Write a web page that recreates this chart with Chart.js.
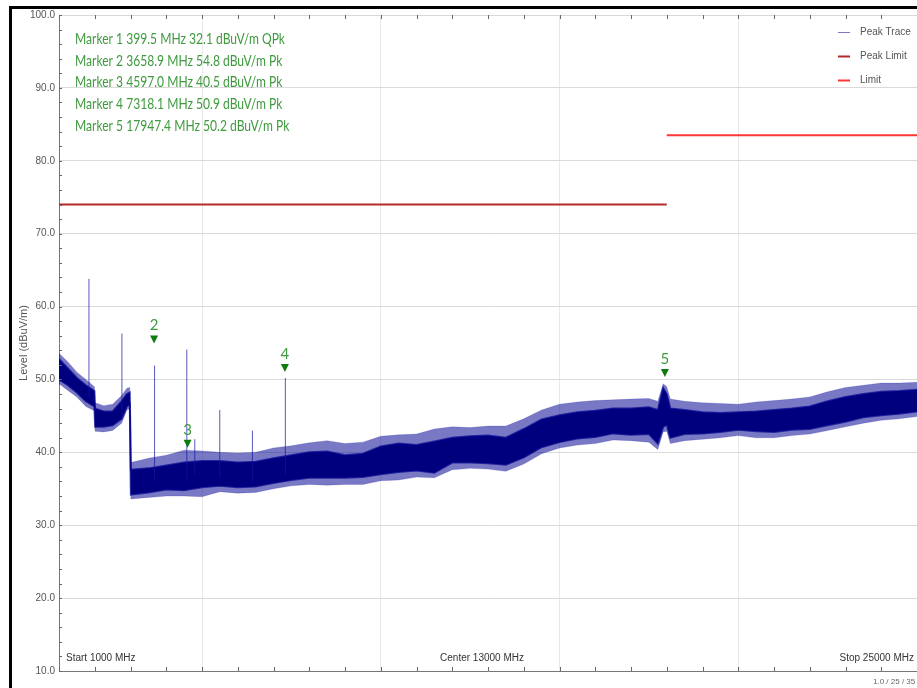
<!DOCTYPE html>
<html>
<head>
<meta charset="utf-8">
<script src="https://cdn.jsdelivr.net/npm/chart.js@4.4.1/dist/chart.umd.min.js"></script>
<style>
  body { margin: 0; background: #fff; }
  canvas { display: block; }
</style>
</head>
<body>
<canvas id="scan" width="917" height="688"></canvas>
<script>
// peak trace, MHz and dBuV/m: dense core edges and the outer reach of the noise
const bandFreq = [1000, 1250, 1500, 1750, 1990, 2010, 2250, 2500, 2750, 2900, 2980, 3010, 3500, 4000, 4500, 5000,
  5500, 6000, 6500, 7000, 7500, 8000, 8500, 9000, 9500, 10000, 10500, 11000, 11500, 12000, 12500, 13000,
  13500, 14000, 14500, 15000, 15500, 16000, 16500, 17000, 17500, 17750, 17900, 18000, 18100, 18500, 19000,
  19500, 20000, 20500, 21000, 21500, 22000, 22500, 23000, 23500, 24000, 24500, 25000];
const bandHigh = [52.8, 51.5, 50.2, 49.2, 48.4, 46.0, 45.6, 45.6, 47.0, 48.0, 48.2, 37.6, 37.8, 38.2, 38.6, 38.8,
  38.8, 38.6, 38.7, 39.2, 39.6, 40.0, 40.1, 39.6, 39.8, 40.8, 41.2, 41.0, 41.5, 42.0, 42.2, 42.3,
  42.0, 43.2, 44.5, 45.1, 45.5, 45.7, 46.0, 46.0, 46.2, 45.8, 48.8, 48.0, 46.0, 45.8, 45.5,
  45.4, 45.5, 45.6, 45.8, 46.0, 46.3, 47.0, 47.6, 48.0, 48.3, 48.4, 48.6];
const bandLow = [50.0, 49.2, 48.2, 47.0, 46.3, 43.5, 43.5, 43.7, 44.6, 46.3, 46.6, 34.2, 34.5, 34.9, 34.8, 35.2,
  35.4, 35.2, 35.3, 35.8, 36.2, 36.5, 36.5, 36.5, 36.6, 37.0, 37.3, 37.5, 37.2, 38.6, 38.6, 38.5,
  38.3, 39.3, 40.7, 41.4, 41.9, 42.1, 42.6, 42.4, 42.5, 41.2, 43.5, 43.8, 42.0, 42.5, 42.6,
  42.8, 43.1, 42.9, 42.8, 43.1, 43.2, 43.7, 44.2, 44.8, 45.1, 45.3, 45.6];
const noiseHigh = [53.6, 52.4, 51.0, 50.0, 49.0, 46.8, 46.4, 46.6, 47.8, 48.8, 48.9, 38.6, 39.2, 39.6, 40.3, 40.2,
  40.0, 39.9, 40.0, 40.6, 40.9, 41.3, 41.6, 41.2, 41.4, 42.2, 42.4, 42.5, 43.2, 43.5, 43.4, 43.6,
  43.6, 44.6, 45.8, 46.6, 46.9, 47.1, 47.2, 47.3, 47.4, 47.0, 49.4, 49.0, 47.3, 47.0, 46.8,
  46.7, 46.6, 46.9, 47.1, 47.3, 47.6, 48.3, 48.9, 49.2, 49.5, 49.5, 49.6];
const noiseLow = [49.4, 48.5, 47.6, 46.3, 45.7, 42.9, 42.8, 43.0, 44.0, 45.8, 46.0, 33.6, 33.8, 34.0, 34.0, 33.9,
  34.6, 34.4, 34.5, 35.0, 35.4, 35.6, 35.5, 35.6, 35.6, 36.1, 36.2, 36.6, 36.5, 37.6, 37.8, 37.7,
  37.4, 38.4, 39.8, 40.6, 41.0, 41.2, 41.7, 41.6, 41.4, 40.4, 42.8, 42.9, 41.2, 41.6, 41.8,
  42.0, 42.3, 42.0, 42.0, 42.3, 42.5, 43.0, 43.5, 44.0, 44.4, 44.6, 44.9];

// narrow spikes on top of the noise band
const spikeFreq = [1838, 2760, 3673, 4575, 4798, 5497, 6410, 7332];
const spikeBase = [47.5, 45.0, 36.0, 36.0, 37.0, 36.5, 36.0, 37.0];
const spikeTop = [63.8, 56.3, 51.9, 54.1, 41.8, 45.8, 43.0, 50.2];

// limits
const peakLimitFreq = [1000, 18000];
const peakLimitLevel = [74, 74];
const limitFreq = [18000, 25000];
const limitLevel = [83.5, 83.5];

// markers
const markerNo = [2, 3, 4, 5];
const markerFreq = [3658.9, 4597.0, 7318.1, 17947.4];
const markerLevel = [54.8, 40.5, 50.9, 50.2];
const markerLines = [
  'Marker 1 399.5 MHz 32.1 dBuV/m QPk',
  'Marker 2 3658.9 MHz 54.8 dBuV/m Pk',
  'Marker 3 4597.0 MHz 40.5 dBuV/m Pk',
  'Marker 4 7318.1 MHz 50.9 dBuV/m Pk',
  'Marker 5 17947.4 MHz 50.2 dBuV/m Pk'
];

const xGrid = [5000, 10000, 15000, 20000];
const yTicks = [10, 20, 30, 40, 50, 60, 70, 80, 90, 100];
const legendNames = ['Peak Trace', 'Peak Limit', 'Limit'];
const legendColors = ['#7b7bc4', '#b22a2a', '#ff3535'];

const navy = '#00007f';
const green = '#3f9a3f';

function pts(xs, ys) {
  return xs.map((x, i) => ({ x: x, y: ys[i] }));
}

const spikeData = [];
spikeFreq.forEach((f, i) => {
  spikeData.push({ x: f, y: spikeBase[i] }, { x: f, y: spikeTop[i] }, { x: f, y: null });
});

// condensed text, like the analyser software font
function narrowText(ctx, text, x, y, width) {
  const w = ctx.measureText(text).width;
  const sx = Math.min(1, width / w);
  ctx.save();
  ctx.translate(x, y);
  ctx.scale(sx, 1);
  ctx.fillText(text, 0, 0);
  ctx.restore();
}

const decorations = {
  id: 'decorations',
  afterDatasetsDraw(chart) {
    const ctx = chart.ctx;
    const xs = chart.scales.x, ys = chart.scales.y;
    const area = chart.chartArea;
    ctx.save();

    // minor ticks
    ctx.strokeStyle = '#666';
    ctx.lineWidth = 1;
    ctx.beginPath();
    for (let v = 10; v <= 100; v += 2) {
      const y = Math.round(ys.getPixelForValue(v)) + 0.5;
      ctx.moveTo(area.left, y);
      ctx.lineTo(area.left + 3, y);
    }
    for (let f = 1000; f <= 25000; f += 1000) {
      const x = Math.round(xs.getPixelForValue(f)) + 0.5;
      ctx.moveTo(x, area.bottom);
      ctx.lineTo(x, area.bottom - 4);
      ctx.moveTo(x, area.top);
      ctx.lineTo(x, area.top + 4);
    }
    ctx.stroke();

    // y tick labels
    ctx.fillStyle = '#555';
    ctx.font = '10px "Liberation Sans", Arial, sans-serif';
    ctx.textAlign = 'right';
    ctx.textBaseline = 'middle';
    yTicks.forEach(v => ctx.fillText(v.toFixed(1), area.left - 4, ys.getPixelForValue(v)));

    // y title
    ctx.save();
    ctx.translate(24, 343);
    ctx.rotate(-Math.PI / 2);
    ctx.textAlign = 'center';
    ctx.font = '11px "Liberation Sans", Arial, sans-serif';
    ctx.fillText('Level (dBuV/m)', 0, 0);
    ctx.restore();

    // frequency labels
    ctx.fillStyle = '#333';
    ctx.font = '10px "Liberation Sans", Arial, sans-serif';
    ctx.textBaseline = 'middle';
    ctx.textAlign = 'left';
    ctx.fillText('Start 1000 MHz', 66, 658);
    ctx.textAlign = 'center';
    ctx.fillText('Center 13000 MHz', xs.getPixelForValue(13000) - 6, 658);
    ctx.textAlign = 'right';
    ctx.fillText('Stop 25000 MHz', 914, 658);
    ctx.fillStyle = '#666';
    ctx.font = '8px "Liberation Sans", Arial, sans-serif';
    ctx.textAlign = 'left';
    ctx.fillText('1.0 / 25 / 35 m', 873, 682);

    // marker readout
    ctx.fillStyle = green;
    ctx.font = '15px Lato, sans-serif';
    ctx.textAlign = 'left';
    const fullW = ctx.measureText(markerLines[0]).width;
    markerLines.forEach((t, i) => {
      narrowText(ctx, t, 75, 39 + i * 21.7, 210 * ctx.measureText(t).width / fullW);
    });

    // marker symbols
    ctx.font = '15px Lato, sans-serif';
    ctx.textAlign = 'center';
    markerFreq.forEach((f, i) => {
      const x = xs.getPixelForValue(f);
      const y = ys.getPixelForValue(markerLevel[i]) - 5;
      ctx.fillStyle = '#0f7a0f';
      ctx.beginPath();
      ctx.moveTo(x - 4, y - 4);
      ctx.lineTo(x + 4, y - 4);
      ctx.lineTo(x, y + 4);
      ctx.closePath();
      ctx.fill();
      ctx.fillStyle = green;
      ctx.fillText(String(markerNo[i]), x, y - 14);
    });

    // legend
    ctx.font = '10px "Liberation Sans", Arial, sans-serif';
    ctx.textAlign = 'left';
    legendNames.forEach((n, i) => {
      const y = 32 + i * 24;
      ctx.strokeStyle = legendColors[i];
      ctx.lineWidth = i === 0 ? 1 : 2;
      ctx.beginPath();
      ctx.moveTo(838, y + 0.5);
      ctx.lineTo(850, y + 0.5);
      ctx.stroke();
      ctx.fillStyle = '#555';
      ctx.fillText(n, 860, y);
    });

    // outer frame
    ctx.fillStyle = '#000';
    ctx.fillRect(9, 6, 3, 682);
    ctx.fillRect(9, 6, 908, 3);
    ctx.restore();
  }
};

new Chart(document.getElementById('scan'), {
  type: 'line',
  data: {
    datasets: [
      {
        label: 'Peak Trace',
        data: pts(bandFreq, bandHigh),
        borderColor: 'rgba(0,0,140,0.7)',
        borderWidth: 2,
        backgroundColor: navy,
        fill: '+1',
        pointRadius: 0,
        order: 3
      },
      {
        label: 'Peak Trace low',
        data: pts(bandFreq, bandLow),
        borderColor: 'rgba(0,0,140,0.7)',
        borderWidth: 2,
        fill: false,
        pointRadius: 0,
        order: 3
      },
      {
        label: 'Peak Trace noise',
        data: pts(bandFreq, noiseHigh),
        borderColor: 'rgba(40,40,170,0.2)',
        borderWidth: 1,
        backgroundColor: 'rgba(10,10,150,0.55)',
        fill: '+1',
        pointRadius: 0,
        order: 4
      },
      {
        label: 'Peak Trace noise low',
        data: pts(bandFreq, noiseLow),
        borderColor: 'rgba(40,40,170,0.2)',
        borderWidth: 1,
        fill: false,
        pointRadius: 0,
        order: 4
      },
      {
        label: 'Spikes',
        data: spikeData,
        borderColor: 'rgba(20,20,160,0.7)',
        borderWidth: 1,
        spanGaps: false,
        pointRadius: 0,
        order: 2
      },
      {
        label: 'Peak Limit',
        data: pts(peakLimitFreq, peakLimitLevel),
        borderColor: '#b52a2a',
        borderWidth: 2,
        pointRadius: 0,
        order: 1
      },
      {
        label: 'Limit',
        data: pts(limitFreq, limitLevel),
        borderColor: '#ff3535',
        borderWidth: 2,
        pointRadius: 0,
        order: 1
      }
    ]
  },
  options: {
    responsive: false,
    animation: false,
    layout: { padding: { left: 59, top: 15, right: 0, bottom: 17 } },
    plugins: { legend: { display: false }, tooltip: { enabled: false } },
    scales: {
      x: {
        type: 'linear',
        min: 1000,
        max: 25000,
        afterBuildTicks: s => { s.ticks = xGrid.map(v => ({ value: v })); },
        ticks: { display: false },
        grid: { color: '#e8e8e8', drawTicks: false },
        border: { color: '#777' }
      },
      y: {
        min: 10,
        max: 100,
        afterBuildTicks: s => { s.ticks = yTicks.map(v => ({ value: v })); },
        ticks: { display: false },
        grid: { color: '#dadada', drawTicks: false },
        border: { color: '#777' }
      }
    }
  },
  plugins: [decorations]
});
</script>
</body>
</html>
